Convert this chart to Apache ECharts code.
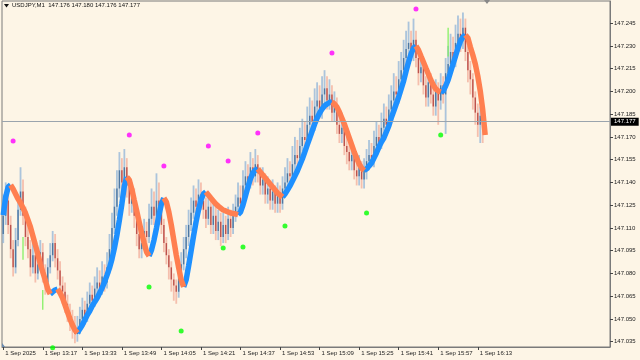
<!DOCTYPE html>
<html><head><meta charset="utf-8">
<script src="https://cdn.jsdelivr.net/npm/echarts@6/dist/echarts.min.js"></script>
<style>html,body{margin:0;padding:0;background:#fdf5e6}#c{width:640px;height:360px}</style>
</head><body><div id="c"></div>
<script>
// All prices in pips above 147.000 (price = 147 + pips/1000)
const BASE = 147.0;
const symbolTitle = 'USDJPY,M1  147.176 147.180 147.176 147.177';
const lastPrice = 147.177;
const timeLabels = ['1 Sep 2025','1 Sep 13:17','1 Sep 13:33','1 Sep 13:49','1 Sep 14:05','1 Sep 14:21','1 Sep 14:37','1 Sep 14:53','1 Sep 15:09','1 Sep 15:25','1 Sep 15:41','1 Sep 15:57','1 Sep 16:13'];
const yTicks = [147.035,147.050,147.065,147.080,147.095,147.110,147.125,147.140,147.155,147.170,147.185,147.200,147.215,147.230,147.245,147.260];

const openPips = [106,118,128,112,96,84,102,122,134,118,
104,96,84,92,80,86,94,80,74,84,
92,100,90,82,72,68,60,54,48,44,
40,44,50,56,52,60,66,62,70,74,
70,78,74,84,96,110,124,136,148,140,
150,138,126,132,118,106,96,100,108,104,
116,124,118,128,124,112,100,92,84,76,
72,68,78,86,96,104,112,120,128,124,
132,128,122,116,124,112,118,108,114,104,
112,106,116,110,118,124,130,126,138,144,
140,150,144,152,146,138,142,132,136,128,
134,126,132,126,136,140,146,144,152,158,
156,164,170,168,178,184,180,190,194,188,
198,202,194,198,186,190,178,172,176,164,
160,154,158,148,144,150,142,148,154,158,
156,164,170,166,176,182,178,188,194,200,
198,208,214,222,228,232,226,234,222,212,
216,204,196,206,198,190,200,194,204,198,
212,218,226,222,232,238,234,242,226,214,
208,196,186,178,184,176];
const closePips = [118,128,112,96,84,102,122,134,118,104,
96,84,92,80,86,94,80,74,84,92,
100,90,82,72,68,60,54,48,44,40,
44,50,56,52,60,66,62,70,74,70,
78,74,84,96,110,124,136,148,140,150,
138,126,132,118,106,96,100,108,104,116,
124,118,128,124,112,100,92,84,76,72,
68,78,86,96,104,112,120,128,124,132,
128,122,116,124,112,118,108,114,104,112,
106,116,110,118,124,130,126,138,144,140,
150,144,152,146,138,142,132,136,128,134,
126,132,126,136,140,146,144,152,158,156,
164,170,168,178,184,180,190,194,188,198,
202,194,198,186,190,178,172,176,164,160,
154,158,148,144,150,142,148,154,158,156,
164,170,166,176,182,178,188,194,200,198,
208,214,222,228,232,226,234,222,212,216,
204,196,206,198,190,200,194,204,198,212,
218,226,222,232,238,234,242,226,214,208,
196,186,178,184,176,177];
const highPips = [132,140,136,118,102,110,130,150,142,124,
112,102,100,98,94,102,100,86,90,100,
108,106,96,88,78,74,66,60,56,52,
52,58,64,62,68,74,72,78,84,82,
88,86,94,106,120,136,148,160,156,162,
156,144,140,136,122,110,108,116,114,126,
136,134,146,140,130,116,104,96,88,80,
76,84,94,104,112,122,130,138,136,142,
140,134,130,132,130,126,124,122,120,120,
118,124,122,126,132,140,138,148,154,152,
160,156,162,158,150,150,146,144,140,142,
138,140,138,144,150,156,154,164,170,168,
176,182,180,190,196,194,202,206,204,210,
214,210,208,204,200,196,184,186,180,170,
166,166,162,154,158,154,156,162,168,166,
174,180,178,186,192,190,198,204,212,210,
220,226,234,240,246,240,248,240,226,226,
220,210,214,212,204,208,206,212,210,222,
230,238,236,244,250,248,252,248,230,220,
212,200,192,190,188,180];
const lowPips = [100,112,106,90,78,80,98,118,112,98,
90,78,80,74,76,82,74,66,70,80,
88,84,76,66,60,54,48,42,37,34,
35,40,46,46,48,56,56,58,66,64,
66,68,70,80,92,106,118,130,132,134,
130,118,120,110,98,90,90,96,98,100,
112,112,114,118,106,94,86,76,68,62,
60,64,72,82,90,98,108,116,118,120,
122,116,110,112,106,106,102,102,98,100,
100,102,104,106,114,120,120,122,134,134,
136,138,140,140,132,132,126,126,122,122,
120,120,120,122,130,134,138,140,146,150,
150,158,162,162,172,174,174,184,182,182,
192,188,188,180,180,172,166,166,158,152,
148,148,142,138,138,136,136,142,148,150,
150,158,160,162,170,172,174,182,188,192,
192,202,208,216,222,220,220,216,204,206,
198,190,190,192,184,184,178,188,192,172,
206,212,214,216,226,226,228,220,206,198,
188,178,170,166,166,176];
const maPips = [118.5,130.4,137.0,138.3,135.7,132.4,129.1,126.4,123.1,119.8,
115.2,110.6,104.7,98.7,92.8,86.2,80.9,75.7,69.7,66.4,
67.8,69.1,69.7,67.1,63.8,59.2,54.6,50.0,46.0,42.7,
40.7,43.4,46.0,49.3,52.6,55.2,58.5,61.2,63.8,67.1,
70.4,74.4,78.9,83.6,89.5,96.8,105.3,115.2,125.8,137.7,
143.6,141.6,135.7,128.4,121.2,113.9,106.7,100.1,94.1,91.5,
95.5,102.0,109.9,118.5,125.8,129.7,127.1,120.5,111.9,102.0,
92.2,83.6,75.7,71.1,75.7,84.9,94.8,104.7,113.9,121.8,
128.4,132.4,133.7,131.7,129.7,127.8,125.8,124.4,123.1,121.8,
121.2,120.5,119.8,119.5,119.2,118.8,120.5,125.1,131.0,137.0,
142.3,146.2,148.2,148.9,146.9,144.9,142.9,140.9,138.9,137.0,
135.0,133.0,131.7,130.4,132.4,135.0,137.7,140.9,144.2,147.5,
151.5,155.4,160.0,164.7,169.3,173.9,178.5,182.5,185.8,188.4,
190.4,191.7,192.7,193.0,191.7,189.7,186.4,182.5,178.5,173.9,
169.3,164.7,160.0,156.1,152.1,149.5,147.9,148.9,150.8,152.8,
156.1,159.4,163.3,166.6,169.3,173.2,177.2,182.5,187.1,191.7,
196.3,201.6,206.9,213.4,219.4,224.7,228.6,229.9,227.3,223.3,
219.4,215.4,211.5,207.5,204.2,201.6,200.3,199.6,200.3,203.6,
207.5,212.8,218.1,223.3,228.6,233.2,235.9,237.2,235.2,229.3,
224.0,218.1,210.2,200.3,187.8,171.3];
const magentaIdx = [4,51,65,83,91,103,133,167];
const magentaPips = [167.3,171.3,150.8,164.0,154.1,172.6,225.3,254.3];
const greenIdx = [20,59,72,89,97,114,147,177];
const greenPips = [31.0,71.0,42.0,96.8,97.4,111.3,119.8,171.3];
const limeIdx = [8,16,180];
const limeLowPips = [89,56,223];
const limeHighPips = [104,69,242];

const TOTAL_SLOTS = 246; // bar slots in the window, incl. the empty right shift
const toP = v => +(BASE + v / 1000).toFixed(4);

const categories = [];
for (let k = 0; k < TOTAL_SLOTS; k++) {
  const m = 13 * 60 + 1 + k;
  categories.push(String(Math.floor(m / 60)).padStart(2, '0') + ':' + String(m % 60).padStart(2, '0'));
}
const candleData = openPips.map((o, i) => [i, toP(o), toP(closePips[i]), toP(lowPips[i]), toP(highPips[i])]);
const limeData = limeIdx.map((i, k) => [i, toP(limeLowPips[k]), toP(limeHighPips[k])]);
const ma = maPips.map(toP);
const blueLine = ma.map(() => null), orangeLine = ma.map(() => null);
for (let i = 1; i < ma.length; i++) {
  const tgt = ma[i] >= ma[i - 1] ? blueLine : orangeLine;
  tgt[i - 1] = ma[i - 1]; tgt[i] = ma[i];
}
const magentaData = magentaIdx.map((i, k) => [i, toP(magentaPips[k])]);
const greenData = greenIdx.map((i, k) => [i, toP(greenPips[k])]);

const labelShown = (idx) => idx % 16 === 0 && idx / 16 < timeLabels.length;

function renderCandle(params, api) {
  const i = api.value(0), o = api.value(1), c = api.value(2), l = api.value(3), h = api.value(4);
  const pO = api.coord([i, o]), pC = api.coord([i, c]), pL = api.coord([i, l]), pH = api.coord([i, h]);
  const bull = c >= o;
  const x = pO[0];
  return { type: 'group', children: [
    { type: 'line', shape: { x1: x, y1: pH[1], x2: x, y2: pL[1] },
      style: { stroke: bull ? 'rgba(135,175,215,0.7)' : 'rgba(240,155,135,0.6)', lineWidth: 1.8 } },
    { type: 'rect', shape: { x: x - 0.7, y: Math.min(pO[1], pC[1]), width: 1.4, height: Math.max(1, Math.abs(pO[1] - pC[1])) },
      style: { fill: bull ? '#4d78a3' : '#bd524c' } }
  ]};
}
function renderLime(params, api) {
  const i = api.value(0);
  const a = api.coord([i, api.value(1)]), b = api.coord([i, api.value(2)]);
  return { type: 'line', shape: { x1: a[0], y1: a[1], x2: b[0], y2: b[1] }, style: { stroke: '#7cf05a', lineWidth: 1.2 } };
}

const FONT = 'Liberation Sans, Arial, sans-serif';
const chart = echarts.init(document.getElementById('c'), null, { renderer: 'canvas' });
chart.setOption({
  animation: false,
  backgroundColor: '#fdf5e6',
  grid: { left: 2, right: 30, top: 1, bottom: 13, show: true, borderColor: '#7a7a7a', borderWidth: 1 },
  xAxis: {
    type: 'category', data: categories, boundaryGap: true,
    axisLine: { show: true, lineStyle: { color: '#7a7a7a' } },
    axisTick: { show: true, interval: labelShown, alignWithLabel: true, length: 3, lineStyle: { color: '#444' } },
    axisLabel: { interval: labelShown, formatter: (v, idx) => labelShown(idx) ? timeLabels[idx / 16] : '',
      align: 'left', fontSize: 6, color: '#222', margin: 3, padding: [0, 0, 0, 2], fontFamily: FONT },
    splitLine: { show: false }
  },
  yAxis: {
    type: 'value', position: 'right', min: 147.0315, max: 147.2596, scale: true,
    axisLine: { show: true, lineStyle: { color: '#7a7a7a' } },
    axisTick: { show: true, customValues: yTicks, length: 3, lineStyle: { color: '#444' } },
    axisLabel: { customValues: yTicks, formatter: v => v.toFixed(3), fontSize: 6, color: '#222', margin: 4, fontFamily: FONT },
    splitLine: { show: false }
  },
  graphic: [
    { type: 'polygon', shape: { points: [[4, 4], [9, 4], [6.5, 7.5]] }, style: { fill: '#111' } },
    { type: 'text', left: 12, top: 2, style: { text: symbolTitle, fontSize: 6, fill: '#111', fontFamily: FONT } },
    { type: 'polygon', shape: { points: [[484, 0], [490, 0], [487, 4]] }, style: { fill: '#888' } },
    { type: 'polygon', shape: { points: [[2, 343], [2, 348], [6, 348]] }, style: { fill: '#6b8bb0' } }
  ],
  series: [
    { type: 'custom', name: 'candles', renderItem: renderCandle, data: candleData, encode: { x: 0, y: [1, 2, 3, 4] }, z: 2,
      markLine: { silent: true, symbol: 'none', animation: false,
        lineStyle: { color: '#9aa4ad', width: 1, type: 'solid' },
        label: { show: true, position: 'end', distance: 1, formatter: lastPrice.toFixed(3), backgroundColor: '#000', color: '#fff',
          fontSize: 6, padding: [1, 3, 1, 3], fontFamily: FONT },
        data: [{ yAxis: lastPrice }] } },
    { type: 'custom', name: 'lime', renderItem: renderLime, data: limeData, encode: { x: 0, y: [1, 2] }, z: 3 },
    { type: 'line', name: 'up', data: blueLine, showSymbol: false, connectNulls: false, z: 4,
      lineStyle: { color: '#1e90ff', width: 5.5 }, itemStyle: { color: '#1e90ff' } },
    { type: 'line', name: 'down', data: orangeLine, showSymbol: false, connectNulls: false, z: 4,
      lineStyle: { color: '#ff7f50', width: 5.5 }, itemStyle: { color: '#ff7f50' } },
    { type: 'scatter', name: 'top', data: magentaData, symbolSize: 5, itemStyle: { color: '#ff00ff' }, z: 5 },
    { type: 'scatter', name: 'bottom', data: greenData, symbolSize: 5, itemStyle: { color: '#00ff00' }, z: 5, clip: false }
  ]
});
</script></body></html>
